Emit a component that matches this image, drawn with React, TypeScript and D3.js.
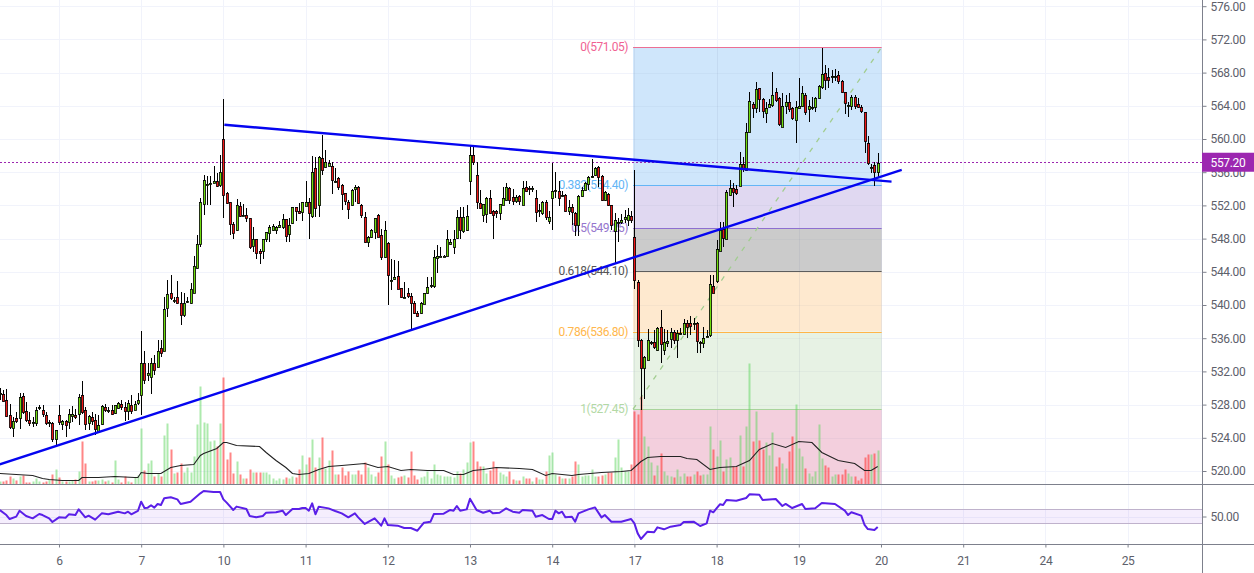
import { useEffect, useRef } from "react"
import * as d3 from "d3"

// 15 minute bars, 25 per session
const opens = [
  529.3,529.3,528.5,526.8,525.2,526.4,526.4,529.0,527.2,526.2,525.8,525.8,527.7,527.3,526.8,525.9,525.8,523.9,
  526.8,525.6,526.0,525.9,526.6,526.8,526.8,529.2,527.4,525.7,526.5,526.1,524.7,525.6,527.7,527.4,527.4,526.9,527.6,528.1,527.7,527.2,528.0,527.4,528.1,
  529.1,533.0,531.6,531.3,533.0,532.6,534.8,534.4,539.6,541.5,540.6,541.0,540.3,538.8,540.5,540.2,541.5,544.4,547.3,552.2,554.6,554.6,554.75,555.0,554.4,
  559.95,553.55,552.35,549.7,549.0,551.9,550.8,550.8,550.45,547.15,548.0,546.55,546.55,547.9,548.7,549.0,549.0,549.35,549.35,550.35,548.6,549.8,551.75,551.35,551.2,
  552.0,552.35,550.65,556.45,552.0,557.75,556.6,556.8,556.8,555.0,555.25,554.5,553.45,552.45,552.1,553.9,554.2,552.1,550.55,547.55,548.25,548.75,550.9,548.4,545.75,
  547.45,543.0,543.1,543.55,542.0,541.0,541.4,541.1,540.2,539.0,539.0,540.2,541.5,542.2,542.2,545.7,545.95,545.95,545.95,547.3,547.0,548.0,550.55,548.85,549.05,
  554.97,558.05,555.65,552.25,550.9,551.0,552.95,551.35,551.3,551.05,552.05,552.65,554.15,553.05,552.55,553.1,552.05,554.25,554.1,554.05,552.95,551.45,551.05,552.35,550.05,
  552.95,553.85,553.75,553.25,553.25,551.25,551.75,551.1,549.65,553.15,553.85,554.65,555.55,555.58,556.6,555.58,552.65,553.33,552.05,548.9,549.95,550.05,550.25,550.24,550.75,
  548.23,542.8,535.8,532.37,533.45,535.46,535.5,534.58,537.4,534.58,535.5,535.8,536.7,535.8,536.6,536.6,537.87,537.8,537.8,537.8,535.5,535.4,536.3,536.3,542.33,
  542.9,546.55,549.1,548.03,553.25,554.05,553.93,554.34,556.95,556.18,560.88,564.22,563.69,566.1,564.78,563.09,563.89,564.1,565.62,564.9,561.48,563.89,564.42,563.69,562.29,
  563.69,563.89,565.3,563.57,563.89,563.89,564.98,566.22,567.99,567.5,567.6,567.65,567.67,567.03,565.66,564.05,563.89,565.02,564.22,563.81,563.21,559.48,556.66,556.87,556.06,
]
const highs = [
  530.0,529.8,529.9,528.1,526.5,527.1,529.4,529.4,528.3,527.1,526.5,527.7,528.0,527.9,527.1,526.1,525.9,525.0,
  527.9,526.2,526.2,527.5,527.8,527.5,529.3,530.9,527.7,526.8,527.1,526.9,526.7,527.9,528.1,527.7,527.9,528.0,528.3,528.6,528.3,528.6,529.1,528.4,529.4,
  536.9,534.5,533.0,533.6,534.0,535.8,535.8,541.0,543.0,543.6,541.0,542.9,541.6,541.4,541.0,542.7,545.9,548.4,552.85,555.7,555.5,555.5,556.75,555.85,558.1,
  564.8,553.65,552.4,550.0,552.75,552.45,552.15,551.65,550.45,549.35,548.0,546.7,548.0,548.75,549.6,549.7,549.55,550.1,550.95,550.35,550.45,551.8,551.8,552.25,552.45,
  554.95,552.85,557.95,557.85,557.95,560.5,558.65,557.5,557.25,556.45,555.4,554.6,553.45,552.6,554.0,554.45,554.3,552.15,551.25,548.3,549.1,550.5,551.0,549.1,550.1,
  547.6,545.6,545.4,545.35,542.0,542.8,542.0,541.4,540.5,539.3,540.4,541.5,543.4,543.4,546.6,547.2,547.0,546.0,549.0,548.0,549.05,551.5,551.85,551.75,552.0,
  559.15,559.15,557.2,553.85,552.2,553.0,553.9,551.4,551.4,552.2,554.2,554.7,554.2,554.0,553.2,553.3,555.0,555.0,554.3,554.3,553.9,552.2,552.5,552.6,551.3,
  557.05,556.0,555.0,553.7,553.4,552.6,552.2,551.2,553.2,554.2,554.8,555.5,557.65,556.6,556.7,555.7,553.7,553.5,552.1,551.1,550.5,551.0,551.4,551.7,551.3,
  556.26,543.0,535.9,533.8,537.07,535.7,537.0,537.3,539.4,537.1,537.0,537.2,537.0,537.0,537.2,538.3,538.2,538.7,538.4,537.9,535.7,537.4,537.0,543.6,543.6,
  547.83,550.0,550.0,553.9,555.06,554.66,554.46,558.47,557.87,561.98,565.7,564.5,566.9,566.2,564.9,564.5,564.8,568.03,566.1,565.1,565.5,565.3,565.5,563.9,564.6,
  567.3,566.4,565.5,564.7,565.02,565.1,566.5,570.92,568.91,568.5,568.3,568.4,568.2,567.1,565.7,564.4,565.3,565.3,564.9,564.1,563.3,560.36,557.0,557.27,558.27,
]
const lows = [
  528.5,528.3,526.5,525.1,524.1,525.8,525.1,526.9,525.9,525.4,525.3,525.4,527.4,526.5,525.5,525.3,523.5,523.1,
  525.5,524.9,524.1,525.1,525.9,526.3,525.5,526.9,524.9,525.0,525.5,524.3,524.6,525.6,527.1,527.0,526.8,526.9,527.5,527.3,526.0,526.2,526.9,527.3,528.0,
  526.7,530.5,530.8,529.3,531.6,532.6,533.7,534.4,538.5,540.6,540.2,540.1,537.6,538.6,540.2,540.1,541.4,544.3,547.0,550.85,552.05,552.05,554.7,554.2,554.2,
  550.45,552.2,548.45,547.9,548.9,550.6,550.7,550.0,546.8,546.35,545.6,545.0,545.6,547.6,547.65,548.9,548.55,549.3,549.1,547.65,547.65,549.7,550.15,551.0,550.15,
  551.9,548.0,550.45,550.65,550.65,555.65,556.5,556.7,553.35,554.75,553.9,551.45,552.1,550.35,551.9,552.45,552.15,550.45,547.5,547.0,548.1,548.0,548.2,545.4,545.7,
  540.0,541.8,543.0,541.9,540.8,540.9,540.9,537.0,538.9,538.5,538.9,540.1,541.3,542.0,542.0,543.8,545.9,545.9,545.9,547.2,546.2,548.0,548.0,548.7,548.9,
  553.25,556.9,551.6,551.6,550.0,549.9,551.0,548.0,550.5,550.2,552.0,552.5,552.2,552.1,552.3,552.0,552.0,553.6,553.2,553.6,550.0,550.6,550.9,550.2,549.7,
  549.0,552.9,551.9,553.0,551.2,550.9,549.6,548.3,548.3,553.0,553.7,553.9,555.3,555.5,554.2,552.55,552.5,551.9,549.0,545.0,547.6,549.7,549.9,549.5,549.9,
  541.9,535.0,527.35,528.63,533.4,535.2,534.7,534.4,533.0,534.0,534.9,534.8,535.3,533.6,536.4,536.4,536.0,536.4,537.0,534.2,534.2,534.8,536.2,536.2,541.4,
  542.7,546.5,547.0,547.9,553.1,551.77,553.2,554.3,556.06,556.1,560.8,562.49,563.1,563.3,562.49,561.89,563.8,563.9,564.4,561.6,561.4,563.0,563.3,562.3,559.56,
  563.6,563.8,562.89,562.09,563.5,563.2,564.8,566.0,565.9,566.1,566.7,567.0,566.6,565.5,563.0,562.6,563.5,563.6,563.7,563.1,558.27,556.9,555.86,554.38,555.46,
]
const closes = [
  529.4,528.5,526.6,525.3,526.0,526.0,528.9,527.1,526.1,525.8,525.9,527.4,527.7,526.8,525.8,525.9,523.9,525.0,
  525.9,526.0,525.5,526.9,526.9,526.5,528.9,527.1,525.7,526.6,526.0,525.0,525.6,527.8,527.3,527.4,526.9,527.9,528.2,527.7,527.2,528.2,527.3,528.1,528.5,
  533.0,530.9,531.8,533.0,532.1,534.5,534.2,539.5,541.3,540.9,540.6,540.3,538.8,540.2,540.5,541.9,544.7,547.3,552.4,555.05,554.6,554.7,555.0,554.45,556.0,
  553.2,552.35,549.7,548.6,552.0,550.75,550.8,550.4,547.0,548.0,546.35,546.35,547.95,548.75,549.4,549.5,549.35,549.65,550.35,548.35,549.65,551.75,551.25,551.1,552.35,
  552.45,551.0,556.0,551.65,557.8,556.25,557.2,557.15,555.15,555.0,554.2,553.4,552.45,551.6,553.9,554.2,552.25,550.9,547.55,548.15,549.05,550.45,548.3,545.75,549.0,
  543.55,543.0,543.35,542.0,540.95,541.0,541.0,540.3,539.0,538.6,540.2,541.5,542.2,542.35,545.75,545.95,545.95,545.95,547.95,547.55,548.0,550.55,549.0,550.55,550.7,
  558.07,557.25,552.45,551.7,552.2,552.95,551.15,550.9,551.05,552.15,552.95,554.17,552.65,552.55,553.05,552.45,554.05,553.75,553.95,554.05,551.25,551.45,552.35,550.5,550.55,
  553.75,553.85,552.95,553.25,551.3,551.75,551.1,549.65,553.15,553.85,554.75,555.45,555.6,556.45,555.45,552.65,553.65,552.05,549.63,550.24,549.95,550.25,550.55,550.9,550.24,
  543.09,535.8,532.37,533.7,535.8,535.5,534.9,537.2,535.3,535.5,535.7,536.7,535.7,536.6,536.6,537.87,537.4,537.4,537.8,535.6,535.4,535.98,536.3,542.5,541.5,
  546.7,549.04,548.03,553.65,554.05,553.53,553.45,556.95,556.38,560.8,564.58,563.77,565.98,564.78,563.29,563.69,564.22,565.3,564.6,561.77,563.97,564.42,563.57,562.49,563.81,
  563.97,565.5,563.29,563.97,563.89,564.98,566.42,567.83,567.1,567.1,567.6,567.65,566.9,565.7,564.38,564.05,565.02,563.89,563.89,563.29,559.68,557.07,556.66,556.06,557.15,
]
const volumes = [
  3,3,4,8,6,4,8,9,2,2,3,6,3,2,3,5,10,15,
  7,3,3,3,4,5,13,43,21,3,3,4,4,5,3,4,2,24,5,2,8,3,2,7,9,
  56,14,21,24,8,11,8,49,61,35,11,12,21,12,17,12,28,60,98,62,61,43,44,38,61,
  107,25,32,11,23,10,6,6,15,12,12,12,12,12,10,6,4,6,5,7,6,8,7,15,29,
  20,27,45,17,27,47,16,24,34,10,10,17,9,13,10,10,14,10,22,17,10,8,12,28,43,
  20,9,6,7,8,9,7,33,9,5,7,8,13,6,20,10,9,8,8,8,7,13,11,15,22,
  42,43,23,18,18,11,14,23,17,12,10,8,13,5,4,4,8,6,6,3,7,5,5,13,29,
  32,10,8,6,6,6,8,23,20,8,9,9,15,8,8,9,10,12,12,27,45,17,13,13,20,
  73,70,88,48,38,22,9,19,31,13,9,8,7,15,8,11,8,8,10,13,9,10,10,58,35,
  28,44,13,25,27,18,18,49,18,58,121,43,73,44,35,42,29,52,18,27,21,16,33,48,80,
  36,28,16,11,8,13,60,26,19,17,8,10,10,10,15,11,8,8,4,6,27,30,30,31,34,
]

// [bar, value]
const volumeMa = [
  [0,11],[5,10],[10,9],[13,6],[15,5],[19,4],[24,4],[25,7],[30,7],[35,8],[41,7],[42,7],[43,12],[45,11],[49,11],[52,17],[55,19],[59,20],
  [61,29],[62,31],[66,36],[68,42],[69,42],[72,39],[79,38],[81,32],[84,24],[87,17],[89,11],[91,10],[94,11],[97,15],[100,18],[104,19],[111,21],
  [115,17],[118,18],[122,14],[125,15],[130,14],[135,14],[138,10],[141,10],[144,14],[147,15],[151,17],[158,16],[162,15],[166,9],[168,11],[174,9],
  [176,10],[183,12],[189,13],[192,14],[195,23],[197,27],[201,28],[207,28],[209,26],[212,25],[216,15],[219,17],[224,18],[228,24],[231,35],[235,41],
  [239,37],[243,43],[247,42],[250,32],[255,24],[260,21],[263,14],[265,14],[267,18],
]
const rsi = [
  [0,59.3],[2,52.1],[3,46.4],[5,49.8],[6,58.3],[8,50.7],[10,47.4],[12,53.6],[13,52.1],[15,47.4],[16,42.1],[18,48.8],[20,48.3],[21,53.1],[23,52.1],[24,60.2],
  [26,48.8],[27,51.2],[29,45.5],[31,54.5],[33,53.1],[36,56.9],[38,54.5],[39,56.9],[40,53.1],[42,57.9],[43,71.2],[44,62.1],[45,62.6],[46,66],[47,62.6],[48,67.9],
  [49,66.4],[50,76],[52,77.4],[54,74.5],[55,67.9],[58,71.2],[61,83.1],[62,86.4],[65,85],[67,85],[68,74.5],[69,69.8],[71,59.3],[72,64.1],[75,60.7],[76,50.7],
  [78,48.8],[80,50.7],[81,55.5],[84,56],[86,58.3],[87,52.1],[89,60.7],[91,60.7],[92,62.1],[93,62.1],[94,58.3],[95,68.8],[96,53.1],[97,64],[100,61.6],[102,57.8],
  [104,54.5],[106,48.8],[108,54.5],[109,48.8],[111,39.3],[114,47.3],[116,36.9],[117,47.3],[118,37.8],[121,36.9],[123,33.5],[125,33.5],[127,29.7],[129,41.2],
  [131,42.6],[132,53.5],[135,54],[137,59.3],[138,58.3],[139,65],[140,58.3],[142,60.2],[143,75.4],[145,59.3],[147,55.4],[149,58.3],[150,54.5],[152,55.4],
  [154,61.6],[156,56.9],[158,55.4],[159,59.3],[162,58.3],[163,49.7],[165,52.1],[167,46.4],[168,46.4],[169,58.3],[170,54.5],[171,56.9],[172,48.8],[174,49.7],
  [175,42.6],[176,54.5],[179,60.2],[181,63],[183,48.8],[184,52.1],[186,42.6],[189,42.6],[192,46.4],[193,40.2],[194,25.9],[195,17.9],[197,28.3],[199,27.4],
  [200,34.5],[202,31.7],[204,35.5],[207,37.9],[208,42.1],[211,42.6],[213,36.4],[215,40.2],[216,58.3],[217,56],[219,67.4],[220,66.4],[221,73.6],[224,72.6],
  [227,76.4],[228,81.7],[231,81.2],[232,73.6],[236,75],[238,65],[239,67.9],[241,62.1],[244,67.9],[245,60.7],[248,61.7],[250,69.3],[254,67.9],[257,58.3],
  [258,52.1],[259,56],[262,51.2],[263,37.9],[264,32.1],[266,30.7],[267,35],
]

const priceTicks = [520,524,528,532,536,540,544,548,552,556,560,564,568,572,576]
const dayBars = [18,43,68,93,118,143,168,193,218,243,268,293,318,343]
const dayLabels = ["6","7","10","11","12","13","14","17","18","19","20","21","24","25"]

const fibStartBar = 192.6
const fibEndBar = 268.2
const fibLevels = ["0","0.382","0.5","0.618","0.786","1"]
const fibPrices = [571.05,554.4,549.25,544.1,536.8,527.45]
const fibLineColors = ["#ec6f93","#64b5f6","#8e6fd0","#5d5d5d","#ffb547","#a9d49c"]
const fibTextColors = ["#f06292","#64b5f6","#9575cd","#555555","#ffb74d","#b3d9a5"]
const fibFills = ["#cfe6fb","#e0d8f1","#cbcbcb","#fee9cf","#e7f2e4"]
const fibLowerFill = "#f3cfdd"

const lastPrice = 557.2
const rsiBandTop = 60
const rsiBandBottom = 40

// trend lines: [bar, price] ends
const upperTrend = [[68.3,561.72],[271.2,554.86]]
const lowerTrend = [[0,520.8],[274.3,556.27]]

const WIDTH = 1254
const HEIGHT = 573
const PLOT_RIGHT = 1202
const PANE_BOTTOM = 484.5
const RSI_BOTTOM = 544.5
const GRID = "#f1f3fb"
const AXIS = "#7d808c"
const TEXT = "#5d606b"
const FONT = "Roboto, sans-serif"

export default function App() {
  const svgRef = useRef<SVGSVGElement | null>(null)

  useEffect(() => {
    if (!svgRef.current) return
    const svg = d3.select(svgRef.current)
    svg.selectAll("*").remove()

    const x = d3.scaleLinear().domain([0, 343]).range([-0.2, 1127.6])
    const y = d3.scaleLinear().domain([520, 576]).range([471, 6.2])
    const yVol = d3.scaleLinear().domain([0, 100]).range([PANE_BOTTOM, PANE_BOTTOM - 100])
    const yRsi = d3.scaleLinear().domain([40, 60]).range([523.5, 509.5])
    const snap = (v: number) => Math.round(v) + 0.5

    const defs = svg.append("defs")
    defs.append("clipPath").attr("id", "mainClip").append("rect").attr("width", PLOT_RIGHT).attr("height", PANE_BOTTOM)
    defs.append("clipPath").attr("id", "rsiClip").append("rect").attr("y", PANE_BOTTOM).attr("width", PLOT_RIGHT).attr("height", RSI_BOTTOM - PANE_BOTTOM)

    svg.append("rect").attr("width", WIDTH).attr("height", HEIGHT).attr("fill", "#fff")

    // Grid
    const grid = svg.append("g").attr("stroke", GRID).attr("stroke-width", 1)
    grid.selectAll(".h").data(priceTicks).enter().append("line")
      .attr("x1", 0).attr("x2", PLOT_RIGHT)
      .attr("y1", (d) => snap(y(d))).attr("y2", (d) => snap(y(d)))
    grid.selectAll(".v").data(dayBars).enter().append("line")
      .attr("x1", (d) => snap(x(d))).attr("x2", (d) => snap(x(d)))
      .attr("y1", 0).attr("y2", RSI_BOTTOM)

    const main = svg.append("g").attr("clip-path", "url(#mainClip)")

    // Fibonacci retracement
    const fibLeft = x(fibStartBar)
    const fibRight = x(fibEndBar)
    const fib = main.append("g")
    fibFills.forEach((fill, i) => {
      fib.append("rect")
        .attr("x", fibLeft).attr("width", fibRight - fibLeft)
        .attr("y", y(fibPrices[i])).attr("height", y(fibPrices[i + 1]) - y(fibPrices[i]))
        .attr("fill", fill)
    })
    fib.append("rect")
      .attr("x", fibLeft).attr("width", fibRight - fibLeft)
      .attr("y", y(fibPrices[5])).attr("height", PANE_BOTTOM - y(fibPrices[5]))
      .attr("fill", fibLowerFill)
    // grid still shows faintly through the zones
    fib.selectAll(".fv").data(dayBars.filter((d) => d > fibStartBar && d < fibEndBar)).enter().append("line")
      .attr("x1", (d) => snap(x(d))).attr("x2", (d) => snap(x(d)))
      .attr("y1", y(fibPrices[0])).attr("y2", PANE_BOTTOM)
      .attr("stroke", "#6b7a99").attr("stroke-opacity", 0.1)
    fib.selectAll(".fh").data(priceTicks.filter((d) => d < fibPrices[0])).enter().append("line")
      .attr("x1", fibLeft).attr("x2", fibRight)
      .attr("y1", (d) => snap(y(d))).attr("y2", (d) => snap(y(d)))
      .attr("stroke", "#6b7a99").attr("stroke-opacity", 0.06)
    fib.selectAll(".fl").data(fibPrices).enter().append("line")
      .attr("x1", fibLeft).attr("x2", fibRight)
      .attr("y1", (d) => snap(y(d))).attr("y2", (d) => snap(y(d)))
      .attr("stroke", (_d, i) => fibLineColors[i]).attr("stroke-width", 1)
    fib.selectAll(".ft").data(fibPrices).enter().append("text")
      .attr("x", fibLeft - 5).attr("y", (d) => y(d) + 4)
      .attr("text-anchor", "end").attr("font-family", FONT).attr("font-size", 12)
      .attr("letter-spacing", "-0.45px")
      .attr("fill", (_d, i) => fibTextColors[i])
      .text((d, i) => `${fibLevels[i]}(${d.toFixed(2)})`)
    fib.append("line")
      .attr("x1", fibLeft).attr("y1", y(fibPrices[5]))
      .attr("x2", fibRight).attr("y2", y(fibPrices[0]))
      .attr("stroke", "#a2cd90").attr("stroke-width", 1.3).attr("stroke-dasharray", "5 7")

    // Volume
    main.append("g").selectAll("rect").data(volumes).enter().append("rect")
      .attr("x", (_d, i) => Math.round(x(i)) - 0.5).attr("width", 2)
      .attr("y", (d) => yVol(d)).attr("height", (d) => PANE_BOTTOM - yVol(d))
      .attr("fill", (_d, i) => (closes[i] < opens[i] ? "#ff3b3b" : "#5cd65c"))
      .attr("fill-opacity", (_d, i) => (closes[i] < opens[i] ? 0.62 : 0.5))

    main.append("path").datum(volumeMa)
      .attr("fill", "none").attr("stroke", "#222").attr("stroke-width", 1.1)
      .attr("d", d3.line<number[]>().x((d) => x(d[0])).y((d) => yVol(d[1])))

    // Last price line sits under the candles
    main.append("line")
      .attr("x1", 0).attr("x2", PLOT_RIGHT)
      .attr("y1", snap(y(lastPrice))).attr("y2", snap(y(lastPrice)))
      .attr("stroke", "#9c27b0").attr("stroke-width", 1).attr("stroke-dasharray", "2 2")

    // Candles
    const candles = main.append("g").selectAll("g").data(opens).enter().append("g")
    candles.append("line")
      .attr("x1", (_d, i) => Math.round(x(i)) + 0.5).attr("x2", (_d, i) => Math.round(x(i)) + 0.5)
      .attr("y1", (_d, i) => y(highs[i])).attr("y2", (_d, i) => y(lows[i]))
      .attr("stroke", "#000").attr("stroke-width", 1).attr("shape-rendering", "crispEdges")
    candles.append("rect")
      .attr("x", (_d, i) => Math.round(x(i)) - 0.6).attr("width", 2.2)
      .attr("y", (d, i) => Math.round(y(Math.max(d, closes[i]))) + 0.5)
      .attr("height", (d, i) => Math.max(1, Math.round(Math.abs(y(d) - y(closes[i])))))
      .attr("fill", (d, i) => (closes[i] < d ? "#f01616" : "#6fdc0e"))
      .attr("stroke", "#000").attr("stroke-width", 0.8)

    // Trend lines
    const trend = d3.line<number[]>().x((d) => x(d[0])).y((d) => y(d[1]))
    svg.selectAll(".trend").data([upperTrend, lowerTrend]).enter().append("path")
      .attr("d", (d) => trend(d))
      .attr("fill", "none").attr("stroke", "#0505f0").attr("stroke-width", 2.4)

    // RSI pane
    const rsiPane = svg.append("g").attr("clip-path", "url(#rsiClip)")
    rsiPane.append("line")
      .attr("x1", 0).attr("x2", PLOT_RIGHT)
      .attr("y1", snap(yRsi(50))).attr("y2", snap(yRsi(50)))
      .attr("stroke", GRID)
    rsiPane.append("rect")
      .attr("x", 0).attr("width", PLOT_RIGHT)
      .attr("y", yRsi(rsiBandTop)).attr("height", yRsi(rsiBandBottom) - yRsi(rsiBandTop))
      .attr("fill", "#9c5cf0").attr("fill-opacity", 0.1)
    rsiPane.selectAll(".band").data([rsiBandTop, rsiBandBottom]).enter().append("line")
      .attr("x1", 0).attr("x2", PLOT_RIGHT)
      .attr("y1", (d) => yRsi(d)).attr("y2", (d) => yRsi(d))
      .attr("stroke", "#bfb2cc").attr("stroke-width", 1)
    rsiPane.append("path").datum(rsi)
      .attr("fill", "none").attr("stroke", "#5a1fe8").attr("stroke-width", 2)
      .attr("stroke-linejoin", "round")
      .attr("d", d3.line<number[]>().x((d) => x(d[0])).y((d) => yRsi(d[1])))

    // Separators
    svg.selectAll(".sep").data([PANE_BOTTOM, RSI_BOTTOM]).enter().append("line")
      .attr("x1", 0).attr("x2", WIDTH)
      .attr("y1", (d) => d).attr("y2", (d) => d)
      .attr("stroke", AXIS).attr("stroke-width", 1)

    // Axes
    const styleAxis = (g: any) => {
      g.select(".domain").remove()
      g.selectAll("line").attr("stroke", AXIS)
      g.selectAll("text")
        .attr("fill", TEXT).attr("font-family", FONT).attr("font-size", 12)
        .attr("letter-spacing", "-0.35px")
    }
    svg.append("g")
      .attr("transform", `translate(${PLOT_RIGHT + 0.5},0)`)
      .call(d3.axisRight(y).tickValues(priceTicks).tickSize(4).tickPadding(4).tickFormat(d3.format(".2f") as any))
      .call(styleAxis)
    svg.append("g")
      .attr("transform", `translate(${PLOT_RIGHT + 0.5},0)`)
      .call(d3.axisRight(yRsi).tickValues([50]).tickSize(4).tickPadding(4).tickFormat(d3.format(".2f") as any))
      .call(styleAxis)
    svg.append("g")
      .attr("transform", `translate(0,${RSI_BOTTOM})`)
      .call(d3.axisBottom(x).tickValues(dayBars).tickSize(3).tickPadding(9).tickFormat((_d, i) => dayLabels[i]))
      .call(styleAxis)

    svg.append("line")
      .attr("x1", PLOT_RIGHT + 0.5).attr("x2", PLOT_RIGHT + 0.5)
      .attr("y1", 0).attr("y2", HEIGHT)
      .attr("stroke", AXIS).attr("stroke-width", 1)

    // Last price tag
    svg.append("rect")
      .attr("x", PLOT_RIGHT).attr("width", WIDTH - PLOT_RIGHT)
      .attr("y", y(lastPrice) - 9.5).attr("height", 19)
      .attr("fill", "#9c27b0")
    svg.append("text")
      .attr("x", PLOT_RIGHT + 8.5).attr("y", y(lastPrice) + 4.5)
      .attr("fill", "#fff").attr("font-family", FONT).attr("font-size", 12)
      .attr("letter-spacing", "-0.35px")
      .text(lastPrice.toFixed(2))
  }, [])

  return (
    <svg
      ref={svgRef}
      width={WIDTH}
      height={HEIGHT}
      style={{ position: "absolute", left: 0, top: 0, display: "block" }}
    ></svg>
  )
}
